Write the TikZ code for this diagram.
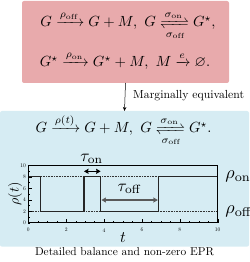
\documentclass[tikz,border=0pt]{standalone}
\usepackage{amsmath,amssymb}
\usepackage{mathtools}
\usetikzlibrary{arrows.meta}
\definecolor{boxred}{RGB}{232,170,172}
\definecolor{boxblue}{RGB}{214,236,243}
\newcommand{\off}{\mathrm{off}}
\newcommand{\on}{\mathrm{on}}
\begin{document}
\begin{tikzpicture}[x=1pt,y=1pt,
  panel/.style={draw=none,rounded corners=2pt,inner sep=0pt,outer sep=0pt},
  eq/.style={inner sep=0pt,scale=1.47,anchor=base},
  ticklab/.style={inner sep=0pt,scale=0.55},
  sig/.style={line width=1.1pt,draw=black!85},
  guide/.style={densely dotted,line width=0.6pt,draw=black!80},
  span/.style={line width=1.1pt,{Stealth[length=4.5pt,width=5pt,inset=0.5pt]}-{Stealth[length=4.5pt,width=5pt,inset=0.5pt]}}]
\useasboundingbox (0,0) rectangle (249,262);
% panels
\node[panel,fill=boxred,minimum width=207pt,minimum height=82pt] (red) at (125.5,220) {};
\node[panel,fill=boxblue,minimum width=249pt,minimum height=135.7pt] (blue) at (124.5,83.15) {};
% equations
\node[eq] (l1) at (128,235) {$G \xrightarrow{\rho_{\off}} G+M,\ G \xrightleftharpoons[\sigma_{\off}]{\sigma_{\on}} G^{\star},$};
\node[eq] (l2) at (125,195) {$G^{\star} \xrightarrow{\rho_{\on}} G^{\star}+M,\ M \xrightarrow{e} \varnothing.$};
\node[eq] (l3) at (123.5,129) {$G \xrightarrow{\rho(t)} G+M,\ G \xrightleftharpoons[\sigma_{\off}]{\sigma_{\on}} G^{\star}.$};
% connector
\draw[-{Stealth[length=4pt,width=3.5pt]},line width=0.5pt] (red.south) -- (blue.north);
\node[anchor=base west,inner sep=0pt,scale=1.17] (marg) at (133,163) {Marginally equivalent};
% caption
\node[anchor=base,inner sep=0pt,scale=1.14] (cap) at (124.5,6.5) {Detailed balance and non-zero EPR};
% plot
\begin{scope}[shift={(28.3,39.3)},x=18.94pt,y=5.74pt]
  \coordinate (o) at (0,0);
  \coordinate (e) at (10,10);
  \draw[guide] (0,8) -- (10,8);
  \draw[guide] (0,2) -- (10,2);
  \draw[sig] (0,8) -- (0.65,8) -- (0.65,2) -- (2.94,2) -- (2.94,8) -- (3.82,8) -- (3.82,2) -- (6.88,2) -- (6.88,8) -- (10,8);
  \draw[line width=0.5pt] (o) rectangle (e);
  \foreach \i in {0,0.5,...,10} \draw[line width=0.3pt] (\i,0) -- (\i,0.35);
  \foreach \i in {0,2,...,10} {\draw[line width=0.4pt] (\i,0) -- (\i,0.7);
     \node[ticklab] at (\i,-1.3) {\i};}
  \foreach \i in {0,1,...,10} \draw[line width=0.3pt] (0,\i) -- (0.09,\i);
  \foreach \i in {0,2,...,10} {\draw[line width=0.4pt] (0,\i) -- (0.18,\i);
     \node[ticklab,anchor=east] at (-0.12,\i) {\i};}
  \coordinate (onA) at (2.94,8.95);
  \coordinate (onB) at (3.82,8.95);
  \draw[span,black] (onA) -- (onB);
  \node[scale=1.7] (tauon) at (3.35,11.15) {$\tau_{\on}$};
  \coordinate (offA) at (3.86,3.95);
  \coordinate (offB) at (6.84,3.95);
  \draw[span,black!65] (offA) -- (offB);
  \node[scale=1.7] (tauoff) at (5.35,5.9) {$\tau_{\off}$};
  \node[scale=1.8,anchor=west,inner sep=0pt] (rhoon) at (10.39,8) {$\rho_{\on}$};
  \node[scale=1.8,anchor=west,inner sep=0pt] (rhooff) at (10.39,2) {$\rho_{\off}$};
  \node[rotate=90,scale=1.4] (ylab) at (-0.7,5) {$\rho(t)$};
  \node[scale=1.6] (xlab) at (5,-2.6) {$t$};
\end{scope}
\end{tikzpicture}
\end{document}
